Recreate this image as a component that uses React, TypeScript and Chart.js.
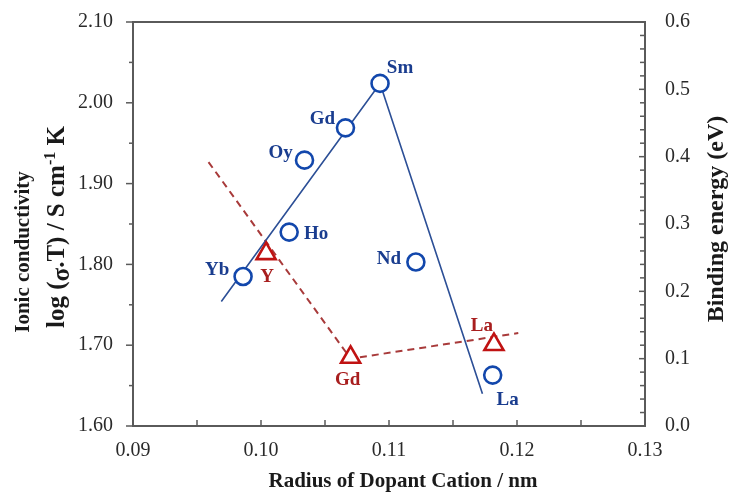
import React, { useEffect, useRef } from "react";
import { Chart, registerables } from "chart.js";

Chart.register(...registerables);

// ---- data ----
const cationLabels = ["Yb", "Ho", "Oy", "Gd", "Sm", "Nd", "La"];
const cationRadius = [0.0986, 0.1022, 0.1034, 0.1066, 0.1093, 0.1121, 0.1181];
const logConductivity = [1.785, 1.840, 1.929, 1.969, 2.024, 1.803, 1.663];

const trendRadius = [0.0969, 0.1093, 0.1173];
const trendConductivity = [1.754, 2.024, 1.640];

const bindingLabels = ["Y", "Gd", "La"];
const bindingRadius = [0.1004, 0.1070, 0.1182];
const bindingEnergy = [0.256, 0.102, 0.121];

const bindingTrendRadius = [0.0959, 0.1070, 0.1201];
const bindingTrendEnergy = [0.392, 0.100, 0.138];

const xTicks = [0.09, 0.10, 0.11, 0.12, 0.13];
const yTicks = [1.6, 1.7, 1.8, 1.9, 2.0, 2.1];
const y2Ticks = [0, 0.1, 0.2, 0.3, 0.4, 0.5, 0.6];

// ---- styles ----
const BLUE = "#1247ac";
const BLUE_LINE = "#2c4f96";
const BLUE_TEXT = "#1a3d8f";
const RED = "#c01212";
const RED_LINE = "#a83a3a";
const RED_TEXT = "#a81e1e";
const AXIS = "#5a5a5a";
const SERIF = "'Liberation Serif', 'Times New Roman', serif";

const circleLabelOffsets = [[-26, -6], [27, 2], [-24, -7], [-23, -9], [20, -15], [-27, -3], [15, 25]];
const triangleLabelOffsets = [[1, 23], [-3, 23], [-12, -18]];

const noPad = (s: any) => {
  s.paddingTop = 0;
  s.paddingBottom = 0;
  s.paddingLeft = 0;
  s.paddingRight = 0;
};

const framePlugin = {
  id: "frame",
  beforeDatasetsDraw(chart: any) {
    const { ctx, chartArea: a, scales } = chart;
    ctx.save();
    ctx.strokeStyle = AXIS;
    ctx.lineWidth = 2;
    ctx.beginPath();
    ctx.rect(a.left, a.top, a.right - a.left, a.bottom - a.top);
    ctx.stroke();
    ctx.lineWidth = 1.5;
    // left axis ticks (outward)
    const y = scales.y;
    for (let i = 0; i < yTicks.length; i++) {
      const py = y.getPixelForValue(yTicks[i]);
      ctx.beginPath();
      ctx.moveTo(a.left - 7, py);
      ctx.lineTo(a.left, py);
      ctx.stroke();
      if (i < yTicks.length - 1) {
        const pm = y.getPixelForValue((yTicks[i] + yTicks[i + 1]) / 2);
        ctx.beginPath();
        ctx.moveTo(a.left - 4, pm);
        ctx.lineTo(a.left, pm);
        ctx.stroke();
      }
    }
    // right axis ticks (inward), minor every 0.02
    const y2 = scales.y2;
    for (let k = 0; k <= 30; k++) {
      const v = k * 0.02;
      const py = y2.getPixelForValue(v);
      const len = k % 5 === 0 ? 6 : 5;
      ctx.beginPath();
      ctx.moveTo(a.right - len, py);
      ctx.lineTo(a.right, py);
      ctx.stroke();
    }
    // bottom ticks (inward), every 0.005
    const x = scales.x;
    for (let i = 0; i < xTicks.length; i++) {
      const px = x.getPixelForValue(xTicks[i]);
      ctx.beginPath();
      ctx.moveTo(px, a.bottom);
      ctx.lineTo(px, a.bottom - 6);
      ctx.stroke();
      if (i < xTicks.length - 1) {
        const pm = x.getPixelForValue((xTicks[i] + xTicks[i + 1]) / 2);
        ctx.beginPath();
        ctx.moveTo(pm, a.bottom);
        ctx.lineTo(pm, a.bottom - 6);
        ctx.stroke();
      }
    }
    ctx.restore();
  },
  afterDatasetsDraw(chart: any) {
    const { ctx, chartArea: a, scales } = chart;
    ctx.save();
    ctx.textAlign = "center";
    ctx.textBaseline = "middle";
    ctx.font = `bold 19px ${SERIF}`;
    // point labels
    ctx.fillStyle = BLUE_TEXT;
    cationLabels.forEach((lab, i) => {
      const px = scales.x.getPixelForValue(cationRadius[i]) + circleLabelOffsets[i][0];
      const py = scales.y.getPixelForValue(logConductivity[i]) + circleLabelOffsets[i][1];
      ctx.fillText(lab, px, py);
    });
    ctx.fillStyle = RED_TEXT;
    bindingLabels.forEach((lab, i) => {
      const px = scales.x.getPixelForValue(bindingRadius[i]) + triangleLabelOffsets[i][0];
      const py = scales.y2.getPixelForValue(bindingEnergy[i]) + triangleLabelOffsets[i][1];
      ctx.fillText(lab, px, py);
    });

    // axis titles
    ctx.fillStyle = "#1a1a1a";
    const midY = (a.top + a.bottom) / 2;
    // x title
    ctx.font = `bold 21px ${SERIF}`;
    ctx.fillText("Radius of Dopant Cation / nm", (a.left + a.right) / 2 + 14, 482);

    // left title line 1
    ctx.save();
    ctx.translate(24, midY + 28);
    ctx.rotate(-Math.PI / 2);
    ctx.font = `bold 21px ${SERIF}`;
    ctx.fillText("Ionic conductivity", 0, 0);
    ctx.restore();

    // left title line 2 (composed)
    const pieces = [
      { t: "log", size: 25, dy: 0 },
      { t: " (", size: 25, dy: 0 },
      { t: "σ", size: 25, dy: 5 },
      { t: ".T) / S cm", size: 25, dy: 0 },
      { t: "-1", size: 16, dy: -7 },
      { t: " K", size: 25, dy: 0 },
    ];
    ctx.save();
    ctx.translate(58, midY + 3);
    ctx.rotate(-Math.PI / 2);
    ctx.textAlign = "left";
    let total = 0;
    for (const p of pieces) {
      ctx.font = `bold ${p.size}px ${SERIF}`;
      total += ctx.measureText(p.t).width;
    }
    let cx = -total / 2;
    for (const p of pieces) {
      ctx.font = `bold ${p.size}px ${SERIF}`;
      ctx.fillText(p.t, cx, p.dy);
      cx += ctx.measureText(p.t).width;
    }
    ctx.restore();

    // right title
    ctx.save();
    ctx.translate(717, midY - 5);
    ctx.rotate(-Math.PI / 2);
    ctx.font = `bold 24px ${SERIF}`;
    ctx.fillText("Binding energy (eV)", 0, 0);
    ctx.restore();

    ctx.restore();
  },
};

export default function App() {
  const ref = useRef<HTMLCanvasElement | null>(null);

  useEffect(() => {
    document.body.style.margin = "0";
    if (!ref.current) return;
    const chart = new Chart(ref.current, {
      type: "scatter",
      data: {
        datasets: [
          {
            label: "Binding energy",
            data: bindingRadius.map((x, i) => ({ x, y: bindingEnergy[i] })),
            yAxisID: "y2",
            pointStyle: "triangle",
            pointRadius: 11,
            borderWidth: 2.6,
            borderColor: RED,
            backgroundColor: "#ffffff",
            showLine: false,
          },
          {
            label: "Ionic conductivity",
            data: cationRadius.map((x, i) => ({ x, y: logConductivity[i] })),
            yAxisID: "y",
            pointStyle: "circle",
            pointRadius: 8.5,
            borderWidth: 2.6,
            borderColor: BLUE,
            backgroundColor: "#ffffff",
            showLine: false,
          },
          {
            label: "Conductivity trend",
            data: trendRadius.map((x, i) => ({ x, y: trendConductivity[i] })),
            yAxisID: "y",
            showLine: true,
            pointRadius: 0,
            borderColor: BLUE_LINE,
            borderWidth: 1.6,
            fill: false,
          },
          {
            label: "Binding trend",
            data: bindingTrendRadius.map((x, i) => ({ x, y: bindingTrendEnergy[i] })),
            yAxisID: "y2",
            showLine: true,
            pointRadius: 0,
            borderColor: RED_LINE,
            borderWidth: 2,
            borderDash: [7, 5],
            fill: false,
          },
        ],
      },
      options: {
        animation: false,
        responsive: false,
        devicePixelRatio: 1,
        layout: { padding: { top: 22, left: 0, right: 0, bottom: 0 } },
        plugins: { legend: { display: false }, tooltip: { enabled: false } },
        scales: {
          x: {
            type: "linear",
            position: "bottom",
            min: 0.09,
            max: 0.13,
            afterBuildTicks: (s: any) => { s.ticks = xTicks.map((v) => ({ value: v })); },
            afterFit: (s: any) => { s.height = 67; noPad(s); },
            grid: { display: false, drawTicks: false },
            border: { display: false },
            ticks: {
              padding: 13,
              color: "#2a2a2a",
              font: { family: SERIF, size: 20 },
              callback: (v: any) => Number(v).toFixed(2),
              maxRotation: 0,
            },
          },
          y: {
            type: "linear",
            position: "left",
            min: 1.6,
            max: 2.1,
            afterBuildTicks: (s: any) => { s.ticks = yTicks.map((v) => ({ value: v })); },
            afterFit: (s: any) => { s.width = 133; noPad(s); },
            grid: { display: false, drawTicks: false },
            border: { display: false },
            ticks: {
              padding: 20,
              color: "#2a2a2a",
              font: { family: SERIF, size: 20 },
              callback: (v: any) => Number(v).toFixed(2),
            },
          },
          y2: {
            type: "linear",
            position: "right",
            min: 0,
            max: 0.6,
            afterBuildTicks: (s: any) => { s.ticks = y2Ticks.map((v) => ({ value: v })); },
            afterFit: (s: any) => { s.width = 86; noPad(s); },
            grid: { display: false, drawTicks: false },
            border: { display: false },
            ticks: {
              padding: 20,
              color: "#2a2a2a",
              font: { family: SERIF, size: 20 },
              callback: (v: any) => Number(v).toFixed(1),
            },
          },
        },
      },
      plugins: [framePlugin],
    } as any);
    return () => chart.destroy();
  }, []);

  return (
    <div style={{ width: 731, height: 493 }}>
      <canvas ref={ref} width={731} height={493} />
    </div>
  );
}
